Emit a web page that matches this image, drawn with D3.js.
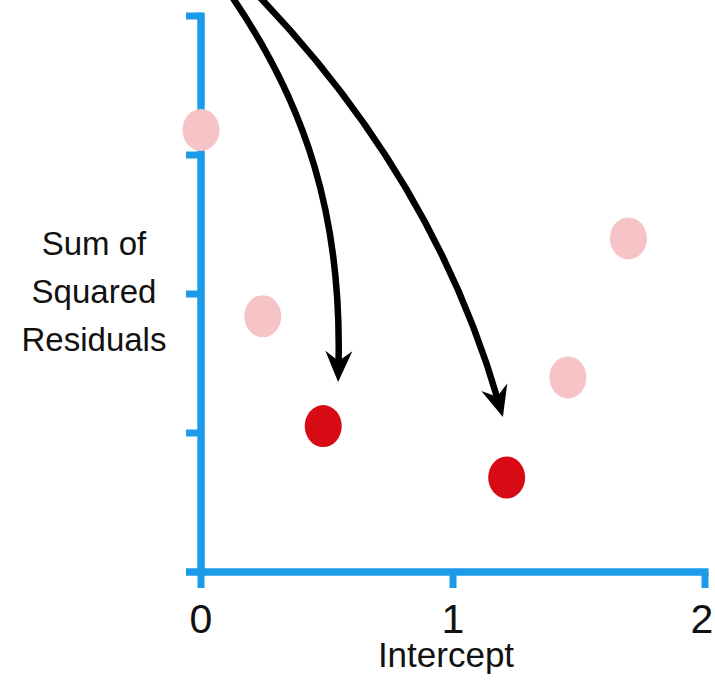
<!DOCTYPE html>
<html>
<head>
<meta charset="utf-8">
<script src="https://cdn.jsdelivr.net/npm/d3@7"></script>
<style>
  html, body { margin: 0; padding: 0; background: #ffffff; }
  svg { display: block; }
  text { font-family: "Liberation Sans", Arial, Helvetica, sans-serif; fill: #111; }
</style>
</head>
<body>
<svg id="chart" width="715" height="681"></svg>
<script>
// Intercept values tried and the sum of squared residuals for each
const intercepts = [0, 0.245, 0.485, 1.213, 1.456, 1.696];
const ssr        = [3.18, 1.84, 1.05, 0.68, 1.40, 2.40];
const highlighted = [false, false, true, true, false, false];

const xTickValues = [0, 1, 2];
const xTickLabels = ["0", "1", "2"];
const yTickValues = [1, 2, 3, 4];

const xTitle = "Intercept";
const yTitleLines = ["Sum of", "Squared", "Residuals"];

// Curved arrows as cubic Béziers in data units: start, control 1, control 2, tip
const arrowCurves = [
  [[0.099, 4.201], [0.425, 3.360], [0.560, 2.532], [0.544, 1.367]],
  [[0.198, 4.201], [0.690, 3.288], [1.012, 2.281], [1.198, 1.115]]
];

const svg = d3.select("#chart");
const blue = "#1b9be8";
const pink = "#f6c4c7";
const red = "#d80b14";

const x = d3.scaleLinear().domain([0, 2]).range([201, 705]);
const y = d3.scaleLinear().domain([0, 4]).range([572, 16]);

const axisW = 7.5;

// y axis with left-pointing ticks
const gy = svg.append("g");
gy.append("line")
  .attr("x1", x(0)).attr("x2", x(0))
  .attr("y1", y(4) - 3.5).attr("y2", y(0) + 3.5)
  .attr("stroke", blue).attr("stroke-width", axisW);
gy.selectAll("line.tick").data(yTickValues).join("line")
  .attr("class", "tick")
  .attr("x1", x(0) - 15).attr("x2", x(0))
  .attr("y1", d => y(d)).attr("y2", d => y(d))
  .attr("stroke", blue).attr("stroke-width", 7);

// x axis with downward ticks
const gx = svg.append("g");
gx.append("line")
  .attr("x1", x(0) - 15).attr("x2", x(2) + 3.5)
  .attr("y1", y(0)).attr("y2", y(0))
  .attr("stroke", blue).attr("stroke-width", axisW);
gx.selectAll("line.tick").data(xTickValues).join("line")
  .attr("class", "tick")
  .attr("x1", d => x(d)).attr("x2", d => x(d))
  .attr("y1", y(0)).attr("y2", y(0) + 16)
  .attr("stroke", blue).attr("stroke-width", 7);
gx.selectAll("text").data(xTickValues).join("text")
  .attr("x", d => x(d) - (d === 2 ? 3 : 0)).attr("y", 633)
  .attr("text-anchor", "middle")
  .attr("font-size", 41)
  .text((d, i) => xTickLabels[i]);

svg.append("text")
  .attr("x", 446).attr("y", 667)
  .attr("text-anchor", "middle")
  .attr("font-size", 35)
  .text(xTitle);

svg.append("g").selectAll("text").data(yTitleLines).join("text")
  .attr("x", 94).attr("y", (d, i) => 255 + i * 48)
  .attr("text-anchor", "middle")
  .attr("font-size", 33)
  .text(d => d);

// points
const pts = intercepts.map((v, i) => ({ x: v, y: ssr[i], hi: highlighted[i] }));
svg.append("g").selectAll("ellipse").data(pts).join("ellipse")
  .attr("cx", d => x(d.x)).attr("cy", d => y(d.y))
  .attr("rx", 18.5).attr("ry", 21)
  .attr("fill", d => d.hi ? red : pink);

// arrows
const ga = svg.append("g");
arrowCurves.forEach(c => {
  const [p0, c1, c2, tip] = c.map(d => [x(d[0]), y(d[1])]);
  const dx = tip[0] - c2[0], dy = tip[1] - c2[1];
  const len = Math.hypot(dx, dy);
  const ux = dx / len, uy = dy / len;
  const px = -uy, py = ux;
  const headLen = 31, headHalf = 13.5, notch = 21;
  // shaft stops inside the head
  const end = [tip[0] - ux * 16, tip[1] - uy * 16];
  const path = d3.path();
  path.moveTo(p0[0], p0[1]);
  path.bezierCurveTo(c1[0], c1[1], c2[0], c2[1], end[0], end[1]);
  ga.append("path")
    .attr("d", path.toString())
    .attr("fill", "none").attr("stroke", "#000").attr("stroke-width", 6.5)
    .attr("stroke-linecap", "butt");
  const head = [
    tip,
    [tip[0] - ux * headLen + px * headHalf, tip[1] - uy * headLen + py * headHalf],
    [tip[0] - ux * notch, tip[1] - uy * notch],
    [tip[0] - ux * headLen - px * headHalf, tip[1] - uy * headLen - py * headHalf]
  ];
  ga.append("path")
    .attr("d", "M" + head.map(h => h.join(",")).join("L") + "Z")
    .attr("fill", "#000");
});
</script>
</body>
</html>
